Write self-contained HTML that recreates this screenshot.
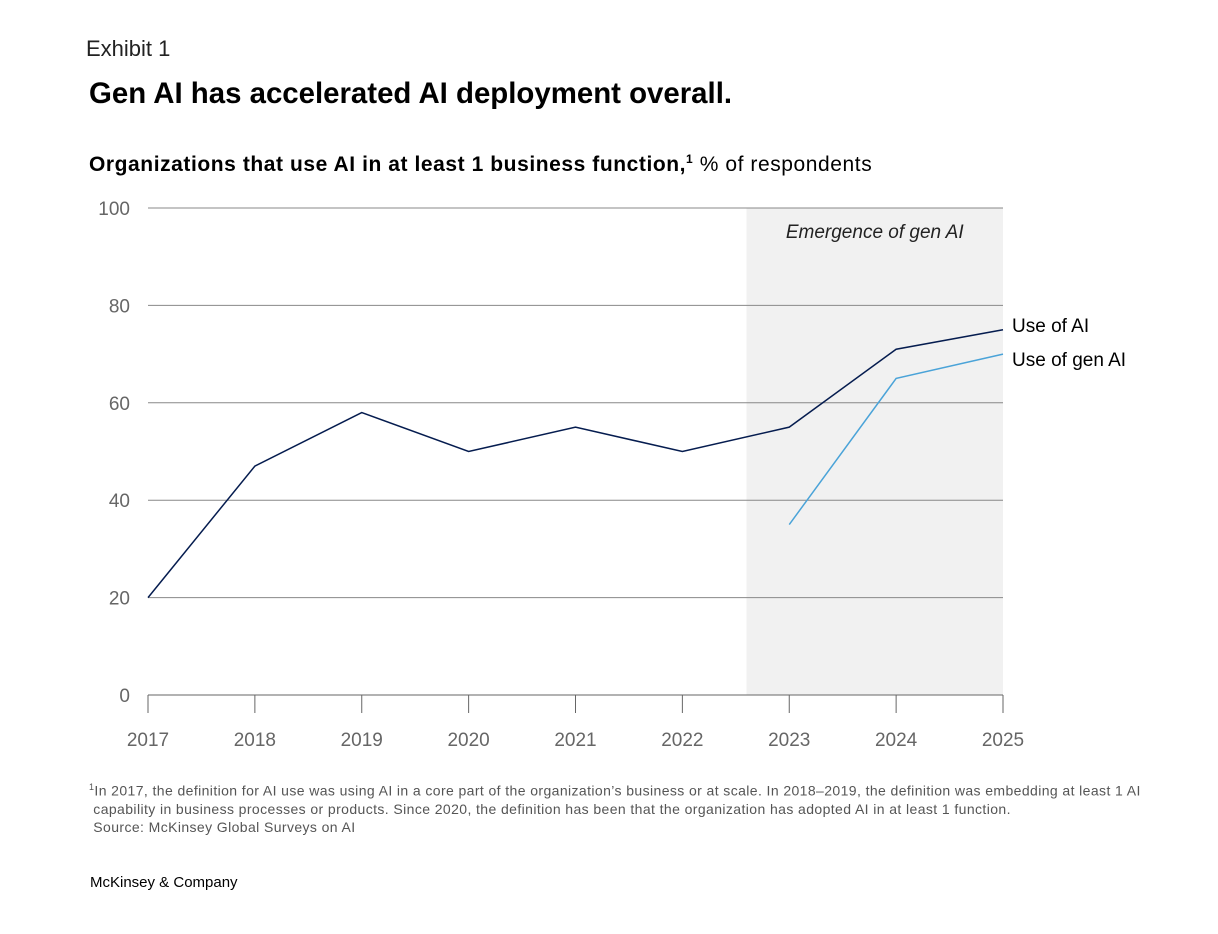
<!DOCTYPE html>
<html><head><meta charset="utf-8"><style>
body{margin:0;background:#fff;width:1218px;height:934px;overflow:hidden;font-family:"Liberation Sans",sans-serif;position:relative}
.a{position:absolute;white-space:nowrap}
</style></head><body>
<div class="a" style="left:86px;top:36px;font-size:22px;color:#222">Exhibit 1</div>
<div class="a" style="left:89px;top:77px;font-size:29.4px;font-weight:bold;color:#000">Gen AI has accelerated AI deployment overall.</div>
<div class="a" style="left:89px;top:152px;font-size:21px;color:#000;letter-spacing:0.57px"><b>Organizations that use AI in at least 1 business function,<sup style="font-size:12px">1</sup></b> % of respondents</div>
<svg id="chart" width="1218" height="934" style="position:absolute;left:0;top:0"></svg>
<div class="a" style="left:89px;top:778px;font-size:14px;color:#555;line-height:18px;letter-spacing:0.4px"><sup style="font-size:9px">1</sup>In 2017, the definition for AI use was using AI in a core part of the organization’s business or at scale. In 2018–2019, the definition was embedding at least 1 AI<br>&nbsp;capability in business processes or products. Since 2020, the definition has been that the organization has adopted AI in at least 1 function.<br>&nbsp;Source: McKinsey Global Surveys on AI</div>
<div class="a" style="left:90px;top:874px;font-size:15px;color:#000">McKinsey &amp; Company</div>
<script>
const years=[2017,2018,2019,2020,2021,2022,2023,2024,2025];
const useAI=[20,47,58,50,55,50,55,71,75];
const genYears=[2023,2024,2025];
const useGenAI=[35,65,70];
const yTicks=[0,20,40,60,80,100];
const shadeStart=2022.6;
const svg=document.getElementById('chart');const NS='http://www.w3.org/2000/svg';
const X=v=>148+(v-2017)*(1003-148)/8;
const Y=v=>695-v*(695-208)/100;
function mk(t,a){const e=document.createElementNS(NS,t);for(const k in a)e.setAttribute(k,a[k]);svg.appendChild(e);return e;}
let r=mk('rect',{x:X(shadeStart),y:Y(100),width:X(2025)-X(shadeStart),height:Y(0)-Y(100),fill:'#f1f1f1'});


let st=mk('text',{x:(X(shadeStart)+X(2025))/2,y:238,'text-anchor':'middle','font-size':19,'font-style':'italic',fill:'#222'});st.textContent='Emergence of gen AI';


yTicks.forEach(v=>{
 if(v>0){const g=mk('line',{x1:148,x2:1003,y1:Y(v),y2:Y(v),stroke:'#888','stroke-width':1});
 
 }
 const t=mk('text',{x:130,y:Y(v)+7,'text-anchor':'end','font-size':19,fill:'#666'});t.textContent=v;
 
 
});
const ax=mk('line',{x1:148,x2:1003,y1:695,y2:695,stroke:'#666'});


years.forEach(v=>{
 const l=mk('line',{x1:X(v),x2:X(v),y1:695,y2:713,stroke:'#666'});
 
 
 const t=mk('text',{x:X(v),y:746,'text-anchor':'middle','font-size':19,fill:'#666'});t.textContent=v;
 
 
});
const p1=mk('polyline',{points:years.map((y,i)=>X(y)+','+Y(useAI[i])).join(' '),fill:'none',stroke:'#051c4f','stroke-width':1.5});


const p2=mk('polyline',{points:genYears.map((y,i)=>X(y)+','+Y(useGenAI[i])).join(' '),fill:'none',stroke:'#4aa3d8','stroke-width':1.5});


const l1=mk('text',{x:1012,y:Y(useAI[useAI.length-1])+2,'font-size':19,fill:'#000'});l1.textContent='Use of AI';


const l2=mk('text',{x:1012,y:Y(useGenAI[useGenAI.length-1])+12,'font-size':19,fill:'#000'});l2.textContent='Use of gen AI';


</script>
</body></html>
